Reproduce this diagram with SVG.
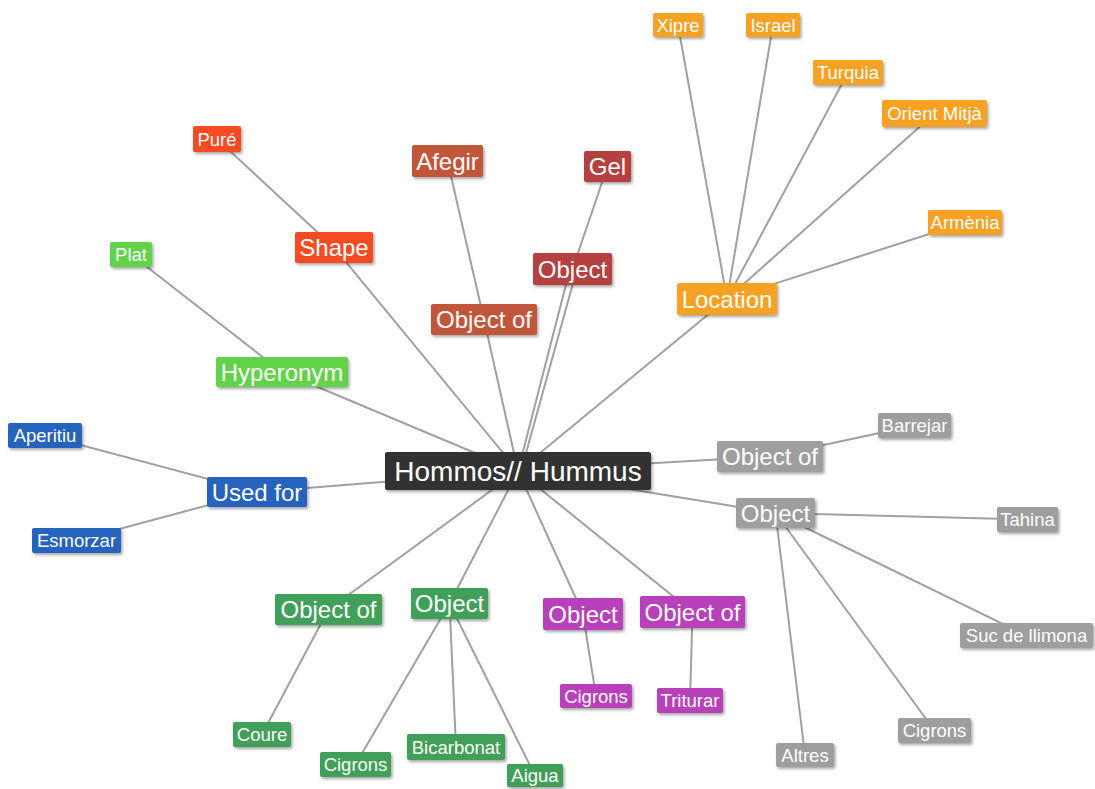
<svg xmlns="http://www.w3.org/2000/svg" width="1095" height="789" viewBox="0 0 1095 789">
<defs>
<filter id="sh" x="-10%" y="-20%" width="130%" height="160%">
<feDropShadow dx="1.5" dy="2" stdDeviation="1.5" flood-color="#000" flood-opacity="0.35"/>
</filter>
</defs>
<style>
.e line{stroke:#a0a0a0;stroke-width:2;fill:none}
rect{filter:url(#sh)}
text{font-family:"Liberation Sans",Arial,sans-serif;fill:#fff;text-anchor:middle}
.b{font-size:24px}
.l{font-size:18.5px}
.c{font-size:28px}
.k rect{fill:#333333}
.or rect{fill:#f44b21}
.rb rect{fill:#c2563b}
.rd rect{fill:#b43f3f}
.yl rect{fill:#f8a122}
.lg rect{fill:#62d34a}
.bl rect{fill:#2563be}
.gr rect{fill:#9e9e9e}
.dg rect{fill:#3f9f58}
.pu rect{fill:#b93fbb}
</style>
<rect width="1095" height="789" fill="#ffffff" style="filter:none"/>
<g class="e" id="connectors">
<line x1="518" y1="471" x2="334" y2="247.5"/>
<line x1="334" y1="247.5" x2="217" y2="139"/>
<line x1="518" y1="471" x2="484" y2="319.5"/>
<line x1="484" y1="319.5" x2="447.5" y2="161"/>
<line x1="518" y1="471" x2="570" y2="269"/>
<line x1="521" y1="471" x2="577" y2="269"/>
<line x1="572.5" y1="269" x2="607.5" y2="166.5"/>
<line x1="518" y1="471" x2="727" y2="299"/>
<line x1="727" y1="299" x2="678" y2="25"/>
<line x1="727" y1="299" x2="773" y2="25"/>
<line x1="727" y1="299" x2="848" y2="72.5"/>
<line x1="727" y1="299" x2="934.5" y2="113.5"/>
<line x1="727" y1="299" x2="965" y2="222.5"/>
<line x1="518" y1="471" x2="282" y2="372"/>
<line x1="282" y1="372" x2="131" y2="254.5"/>
<line x1="518" y1="471" x2="257" y2="492"/>
<line x1="257" y1="492" x2="45" y2="435.5"/>
<line x1="257" y1="492" x2="76.5" y2="540.5"/>
<line x1="518" y1="471" x2="770" y2="456.5"/>
<line x1="770" y1="456.5" x2="914.5" y2="425.5"/>
<line x1="518" y1="471" x2="775.5" y2="513"/>
<line x1="775.5" y1="513" x2="1027.5" y2="519.5"/>
<line x1="775.5" y1="513" x2="1026.5" y2="635.5"/>
<line x1="775.5" y1="513" x2="934.5" y2="730.5"/>
<line x1="775.5" y1="513" x2="805" y2="755"/>
<line x1="518" y1="471" x2="328.5" y2="609.5"/>
<line x1="328.5" y1="609.5" x2="262" y2="734.5"/>
<line x1="518" y1="471" x2="449.5" y2="603.5"/>
<line x1="449.5" y1="603.5" x2="355.5" y2="764.5"/>
<line x1="449.5" y1="603.5" x2="456" y2="747"/>
<line x1="449.5" y1="603.5" x2="535" y2="775.5"/>
<line x1="518" y1="471" x2="583" y2="614"/>
<line x1="583" y1="614" x2="596" y2="696"/>
<line x1="518" y1="471" x2="692.5" y2="612"/>
<line x1="692.5" y1="612" x2="690" y2="700.5"/>
</g>
<g id="n-center" class="k"><rect x="385" y="452" width="266" height="38" rx="2"/><text class="c" x="518" y="481">Hommos// Hummus</text></g>
<g id="n-pure" class="or"><rect x="193" y="126" width="48" height="26" rx="2"/><text class="l" x="217" y="145.6">Puré</text></g>
<g id="n-shape" class="or"><rect x="295" y="232" width="78" height="31" rx="2"/><text class="b" x="334" y="256">Shape</text></g>
<g id="n-afegir" class="rb"><rect x="412" y="145" width="71" height="32" rx="2"/><text class="b" x="447.5" y="169.5">Afegir</text></g>
<g id="n-objof-red" class="rb"><rect x="431" y="304" width="106" height="31" rx="2"/><text class="b" x="484" y="328">Object of</text></g>
<g id="n-gel" class="rd"><rect x="584" y="151" width="47" height="31" rx="2"/><text class="b" x="607.5" y="175">Gel</text></g>
<g id="n-obj-red" class="rd"><rect x="533" y="253" width="79" height="32" rx="2"/><text class="b" x="572.5" y="277.5">Object</text></g>
<g id="n-xipre" class="yl"><rect x="653" y="13" width="50" height="24" rx="2"/><text class="l" x="678" y="31.6">Xipre</text></g>
<g id="n-israel" class="yl"><rect x="746" y="13" width="54" height="24" rx="2"/><text class="l" x="773" y="31.6">Israel</text></g>
<g id="n-turquia" class="yl"><rect x="813" y="60" width="70" height="25" rx="2"/><text class="l" x="848" y="79.1">Turquia</text></g>
<g id="n-orient" class="yl"><rect x="882" y="100" width="105" height="27" rx="2"/><text class="l" x="934.5" y="120.1">Orient Mitjà</text></g>
<g id="n-armenia" class="yl"><rect x="928" y="210" width="74" height="25" rx="2"/><text class="l" x="965" y="229.1">Armènia</text></g>
<g id="n-location" class="yl"><rect x="677" y="283" width="100" height="32" rx="2"/><text class="b" x="727" y="307.5">Location</text></g>
<g id="n-plat" class="lg"><rect x="110" y="242" width="42" height="25" rx="2"/><text class="l" x="131" y="261.1">Plat</text></g>
<g id="n-hyperonym" class="lg"><rect x="216" y="357" width="132" height="30" rx="2"/><text class="b" x="282" y="380.5">Hyperonym</text></g>
<g id="n-aperitiu" class="bl"><rect x="8" y="423" width="74" height="25" rx="2"/><text class="l" x="45" y="442.1">Aperitiu</text></g>
<g id="n-usedfor" class="bl"><rect x="207" y="477" width="100" height="30" rx="2"/><text class="b" x="257" y="500.5">Used for</text></g>
<g id="n-esmorzar" class="bl"><rect x="32" y="528" width="89" height="25" rx="2"/><text class="l" x="76.5" y="547.1">Esmorzar</text></g>
<g id="n-objof-gray" class="gr"><rect x="717" y="441" width="106" height="31" rx="2"/><text class="b" x="770" y="465">Object of</text></g>
<g id="n-barrejar" class="gr"><rect x="878" y="413" width="73" height="25" rx="2"/><text class="l" x="914.5" y="432.1">Barrejar</text></g>
<g id="n-obj-gray" class="gr"><rect x="736" y="498" width="79" height="30" rx="2"/><text class="b" x="775.5" y="521.5">Object</text></g>
<g id="n-tahina" class="gr"><rect x="997" y="507" width="61" height="25" rx="2"/><text class="l" x="1027.5" y="526.1">Tahina</text></g>
<g id="n-suc" class="gr"><rect x="960" y="623" width="133" height="25" rx="2"/><text class="l" x="1026.5" y="642.1">Suc de llimona</text></g>
<g id="n-cigrons-gray" class="gr"><rect x="898" y="718" width="73" height="25" rx="2"/><text class="l" x="934.5" y="737.1">Cigrons</text></g>
<g id="n-altres" class="gr"><rect x="776" y="743" width="58" height="24" rx="2"/><text class="l" x="805" y="761.6">Altres</text></g>
<g id="n-objof-green" class="dg"><rect x="275" y="594" width="107" height="31" rx="2"/><text class="b" x="328.5" y="618">Object of</text></g>
<g id="n-obj-green" class="dg"><rect x="411" y="588" width="77" height="31" rx="2"/><text class="b" x="449.5" y="612">Object</text></g>
<g id="n-coure" class="dg"><rect x="233" y="722" width="58" height="25" rx="2"/><text class="l" x="262" y="741.1">Coure</text></g>
<g id="n-cigrons-green" class="dg"><rect x="320" y="752" width="71" height="25" rx="2"/><text class="l" x="355.5" y="771.1">Cigrons</text></g>
<g id="n-bicarbonat" class="dg"><rect x="407" y="734" width="98" height="26" rx="2"/><text class="l" x="456" y="753.6">Bicarbonat</text></g>
<g id="n-aigua" class="dg"><rect x="507" y="764" width="56" height="23" rx="2"/><text class="l" x="535" y="782.1">Aigua</text></g>
<g id="n-obj-purple" class="pu"><rect x="543" y="598" width="80" height="32" rx="2"/><text class="b" x="583" y="622.5">Object</text></g>
<g id="n-objof-purple" class="pu"><rect x="640" y="596" width="105" height="32" rx="2"/><text class="b" x="692.5" y="620.5">Object of</text></g>
<g id="n-cigrons-purple" class="pu"><rect x="560" y="684" width="72" height="24" rx="2"/><text class="l" x="596" y="702.6">Cigrons</text></g>
<g id="n-triturar" class="pu"><rect x="657" y="688" width="66" height="25" rx="2"/><text class="l" x="690" y="707.1">Triturar</text></g>
</svg>
